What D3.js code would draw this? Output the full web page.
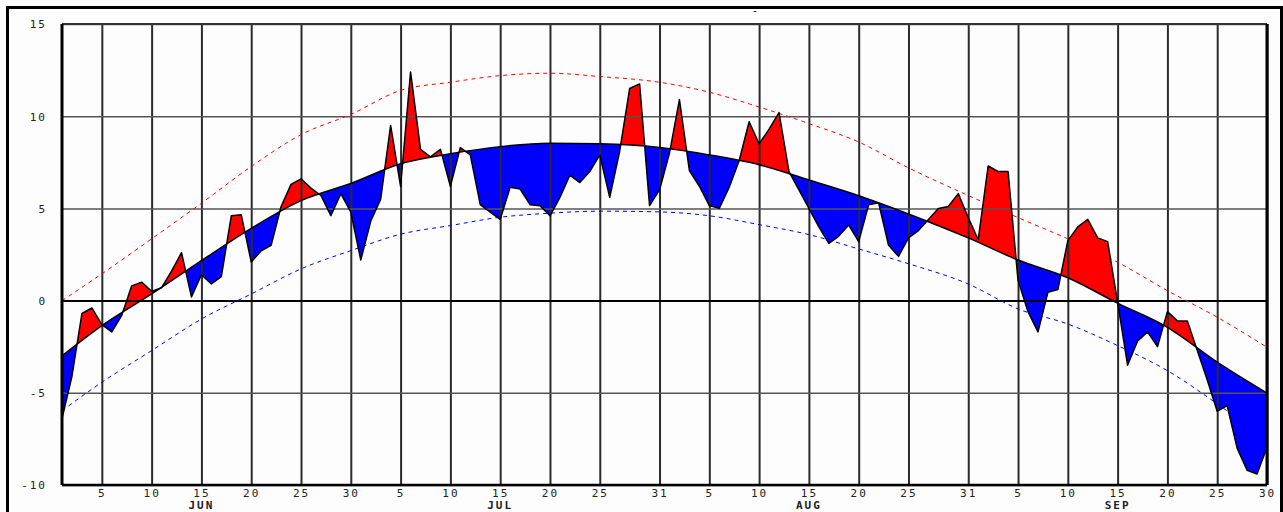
<!DOCTYPE html>
<html>
<head>
<meta charset="utf-8">
<script src="https://cdn.jsdelivr.net/npm/d3@7"></script>
<style>
  html, body { margin: 0; padding: 0; background: #fcfdfc; }
  svg { display: block; }
  .tick text { font-family: "DejaVu Sans Mono", monospace; font-size: 11px; fill: #222; letter-spacing: 2px; }
</style>
</head>
<body>
<div id="chart"></div>
<script>
// season starts Jun 1, one value per day up to Sep 30
const startDate = new Date(2023, 5, 1);

// daily observed value
const actual = [
  -6.4, -4.1, -0.7, -0.4, -1.3, -1.7, -0.8, 0.8, 1.0, 0.5,
  0.7, 1.6, 2.6, 0.2, 1.4, 0.9, 1.3, 4.6, 4.65, 2.1,
  2.7, 3.0, 5.1, 6.3, 6.6, 6.1, 5.7, 4.6, 5.8, 4.8,
  2.2, 4.3, 5.5, 9.5, 6.2, 12.4, 8.2, 7.8, 8.2, 6.2,
  8.3, 7.9, 5.2, 4.8, 4.4, 6.15, 6.05, 5.2, 5.15, 4.6,
  5.6, 6.8, 6.4, 7.0, 7.9, 5.6, 8.1, 11.5, 11.75, 5.15,
  6.0, 8.0, 10.9, 7.05, 6.2, 5.15, 5.0, 6.15, 7.6, 9.7,
  8.5, 9.3, 10.2, 7.0, 6.0, 5.0, 4.0, 3.1, 3.5, 4.1,
  3.2, 5.2, 5.3, 3.0, 2.4, 3.4, 3.8, 4.4, 5.0, 5.1,
  5.8, 4.5, 3.3, 7.3, 7.0, 7.0, 1.1, -0.6, -1.7, 0.45,
  0.6, 3.25, 4.0, 4.4, 3.4, 3.2, -0.1, -3.5, -2.2, -1.7,
  -2.5, -0.6, -1.1, -1.1, -2.7, -4.3, -6.0, -5.7, -8.0, -9.2,
  -9.4, -7.95
];

// climate curves, read at the grid days (days after Jun 1)
const refDays = [0, 4, 9, 14, 19, 24, 29, 34, 39, 44, 49, 54, 60, 65, 70, 75, 80, 85, 91, 96, 101, 106, 111, 116, 121];
const normal = [-3.0, -1.36, 0.36, 2.17, 3.92, 5.42, 6.35, 7.42, 7.96, 8.35, 8.53, 8.5, 8.3, 7.9, 7.37, 6.54, 5.69, 4.7, 3.4, 2.2, 1.24, -0.14, -1.45, -3.34, -5.02];
const upper = [0.0, 1.45, 3.35, 5.28, 7.27, 9.0, 10.1, 11.4, 11.84, 12.2, 12.33, 12.15, 11.84, 11.3, 10.5, 9.6, 8.6, 7.2, 5.7, 4.5, 3.35, 2.08, 0.54, -0.9, -2.53];
const lower = [-5.97, -4.43, -2.71, -1.0, 0.36, 1.72, 2.71, 3.6, 4.07, 4.52, 4.74, 4.85, 4.81, 4.6, 4.12, 3.58, 2.8, 2.0, 0.9, -0.45, -1.27, -2.44, -3.8, -5.6, -7.6];

// axis labels
const tickDays = [4, 9, 14, 19, 24, 29, 34, 39, 44, 49, 54, 60, 65, 70, 75, 80, 85, 91, 96, 101, 106, 111, 116, 121];
const tickLabels = ["5", "10", "15", "20", "25", "30", "5", "10", "15", "20", "25", "31", "5", "10", "15", "20", "25", "31", "5", "10", "15", "20", "25", "30"];
const monthDays = [14, 44, 75, 106];
const monthNames = ["JUN", "JUL", "AUG", "SEP"];
const yTicks = [-10, -5, 0, 5, 10, 15];

const W = 1283, H = 512;
const margin = { top: 24, right: 16, bottom: 27, left: 62 };
const w = W - margin.left - margin.right;
const h = H - margin.top - margin.bottom;

const day = i => d3.timeDay.offset(startDate, i);

const x = d3.scaleTime()
  .domain([day(0), day(121)])
  .range([0, w]);
const y = d3.scaleLinear()
  .domain([-10, 15])
  .range([h, 0]);

const svg = d3.select("#chart").append("svg")
  .attr("width", W)
  .attr("height", H);

// outer frame
svg.append("rect")
  .attr("x", 7.5).attr("y", 7.5)
  .attr("width", 1274).attr("height", 520)
  .attr("fill", "#fcfdfc")
  .attr("stroke", "#000")
  .attr("stroke-width", 3);

svg.append("text")
  .attr("x", 755).attr("y", 14)
  .attr("text-anchor", "middle")
  .style("font-family", "DejaVu Sans Mono")
  .style("font-size", "10px")
  .text("-");

const g = svg.append("g")
  .attr("transform", `translate(${margin.left},${margin.top})`);

const obs = actual.map((v, i) => ({ d: day(i), v }));
const ref = (arr) => refDays.map((k, i) => ({ d: day(k), v: arr[i] }));
const normPts = ref(normal);

const curve = d3.curveMonotoneX;

// clip regions above and below the normal curve
const defs = svg.append("defs");
defs.append("clipPath").attr("id", "aboveNormal")
  .append("path")
  .attr("d", d3.area().curve(curve).x(d => x(d.d)).y0(-5).y1(d => y(d.v))(normPts));
defs.append("clipPath").attr("id", "belowNormal")
  .append("path")
  .attr("d", d3.area().curve(curve).x(d => x(d.d)).y0(h + 5).y1(d => y(d.v))(normPts));

// red: observed above normal
g.append("path")
  .datum(obs)
  .attr("clip-path", "url(#aboveNormal)")
  .attr("fill", "#ff0000")
  .attr("d", d3.area().x(d => x(d.d)).y0(h).y1(d => y(d.v)));

// blue: observed below normal
g.append("path")
  .datum(obs)
  .attr("clip-path", "url(#belowNormal)")
  .attr("fill", "#0000ff")
  .attr("d", d3.area().x(d => x(d.d)).y0(0).y1(d => y(d.v)));

// grid via axes
const xAxis = g.append("g")
  .attr("transform", `translate(0,${h})`)
  .call(d3.axisBottom(x)
    .tickValues(tickDays.map(day))
    .tickFormat((d, i) => tickLabels[i])
    .tickSizeInner(-h)
    .tickSizeOuter(0)
    .tickPadding(4));
xAxis.select(".domain").remove();
xAxis.selectAll(".tick line").attr("stroke", "#2b2b2b").attr("stroke-width", 2);

const yAxis = g.append("g")
  .call(d3.axisLeft(y)
    .tickValues(yTicks)
    .tickFormat(d => String(d))
    .tickSizeInner(-w)
    .tickSizeOuter(0)
    .tickPadding(15));
yAxis.select(".domain").remove();
yAxis.selectAll(".tick line")
  .attr("stroke", d => d === 0 ? "#000" : "#555")
  .attr("stroke-width", d => d === 0 ? 2 : 1.5);
yAxis.selectAll(".tick text").attr("dy", "0.35em");

// month names
g.append("g")
  .selectAll("text")
  .data(monthDays)
  .join("text")
  .attr("x", d => x(day(d)))
  .attr("y", h + 24)
  .attr("text-anchor", "middle")
  .style("font-family", "DejaVu Sans Mono, monospace")
  .style("font-size", "11px")
  .style("font-weight", "bold")
  .style("letter-spacing", "2px")
  .attr("fill", "#222")
  .text((d, i) => monthNames[i]);

// dashed envelope lines
const smooth = d3.line().curve(curve).x(d => x(d.d)).y(d => y(d.v));
g.append("path")
  .datum(ref(upper))
  .attr("fill", "none")
  .attr("stroke", "#ff0000")
  .attr("stroke-width", 1)
  .attr("stroke-dasharray", "4,4")
  .attr("d", smooth);
g.append("path")
  .datum(ref(lower))
  .attr("fill", "none")
  .attr("stroke", "#0000ff")
  .attr("stroke-width", 1)
  .attr("stroke-dasharray", "4,4")
  .attr("d", smooth);

// outlines
g.append("path")
  .datum(normPts)
  .attr("fill", "none")
  .attr("stroke", "#000")
  .attr("stroke-width", 1.5)
  .attr("d", smooth);
g.append("path")
  .datum(obs)
  .attr("fill", "none")
  .attr("stroke", "#000")
  .attr("stroke-width", 1.5)
  .attr("stroke-linejoin", "round")
  .attr("d", d3.line().x(d => x(d.d)).y(d => y(d.v)));

// plot borders
g.append("line").attr("x1", 0).attr("x2", w).attr("y1", 0).attr("y2", 0)
  .attr("stroke", "#333").attr("stroke-width", 2);
g.append("line").attr("x1", 0).attr("x2", w).attr("y1", h).attr("y2", h)
  .attr("stroke", "#000").attr("stroke-width", 2.5);
g.append("line").attr("x1", 0).attr("x2", 0).attr("y1", 0).attr("y2", h)
  .attr("stroke", "#000").attr("stroke-width", 3);
g.append("line").attr("x1", w).attr("x2", w).attr("y1", 0).attr("y2", h)
  .attr("stroke", "#000").attr("stroke-width", 3);
</script>
</body>
</html>
